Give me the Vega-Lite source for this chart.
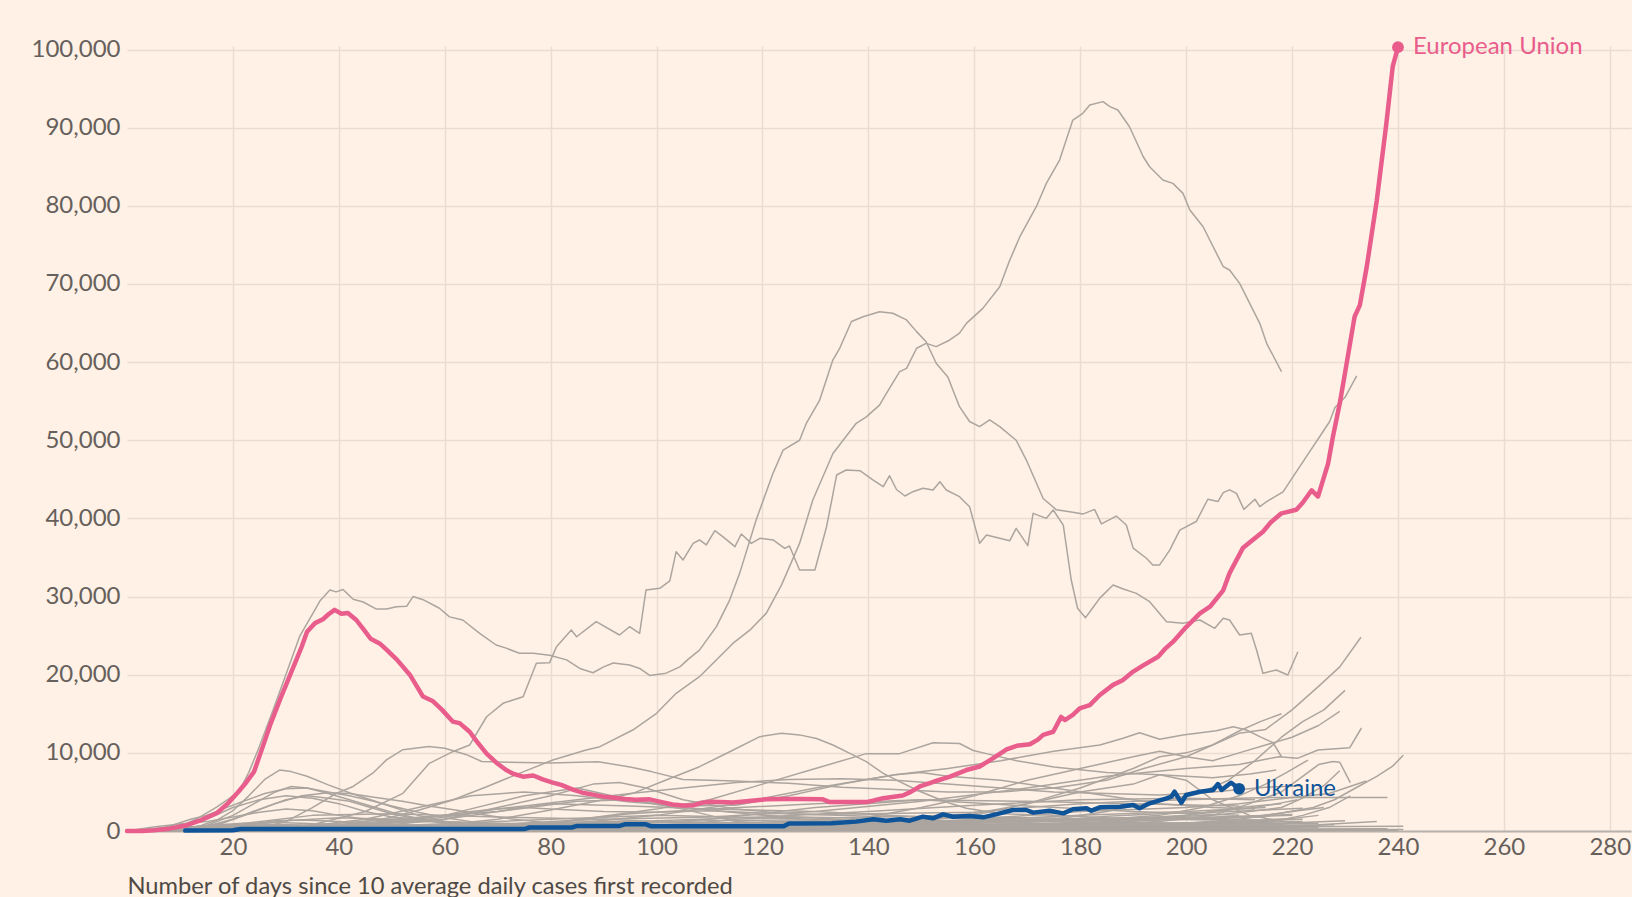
{
"$schema":"https://vega.github.io/schema/vega-lite/v6.json",
"width":1504,"height":785,
"autosize":{"type":"none"},
"padding":{"left":127,"top":46,"right":1,"bottom":66},
"background":"#fff1e5",
"config":{"view":{"stroke":null},"font":"Lato","text":{"font":"Lato"}},
"datasets":{
"g":[
{"c":"US","d":5,"v":0},{"c":"US","d":8,"v":300},{"c":"US","d":10,"v":600},{"c":"US","d":13,"v":1500},{"c":"US","d":15,"v":2300},{"c":"US","d":17,"v":3100},{"c":"US","d":19,"v":4000},{"c":"US","d":21.3,"v":5250},{"c":"US","d":23,"v":7500},{"c":"US","d":25,"v":10800},{"c":"US","d":27.6,"v":15500},{"c":"US","d":30.1,"v":20200},{"c":"US","d":32.6,"v":24900},{"c":"US","d":35.1,"v":27850},{"c":"US","d":36.5,"v":29500},{"c":"US","d":38.3,"v":30850},{"c":"US","d":39.5,"v":30600},{"c":"US","d":40.8,"v":30900},{"c":"US","d":42.7,"v":29650},{"c":"US","d":44.6,"v":29300},{"c":"US","d":47.1,"v":28400},{"c":"US","d":49,"v":28400},{"c":"US","d":50.9,"v":28700},{"c":"US","d":52.8,"v":28750},{"c":"US","d":54,"v":30000},{"c":"US","d":55.9,"v":29600},{"c":"US","d":59,"v":28500},{"c":"US","d":60.9,"v":27400},{"c":"US","d":63.4,"v":27000},{"c":"US","d":66.6,"v":25300},{"c":"US","d":69.7,"v":23800},{"c":"US","d":71.6,"v":23400},{"c":"US","d":74.1,"v":22750},{"c":"US","d":76.7,"v":22750},{"c":"US","d":79.8,"v":22500},{"c":"US","d":83,"v":21900},{"c":"US","d":85.5,"v":20800},{"c":"US","d":88,"v":20250},{"c":"US","d":90,"v":21000},{"c":"US","d":91.8,"v":21500},{"c":"US","d":94.9,"v":21250},{"c":"US","d":96.8,"v":20800},{"c":"US","d":98.7,"v":19900},{"c":"US","d":101.8,"v":20200},{"c":"US","d":104.4,"v":21000},{"c":"US","d":106,"v":22000},{"c":"US","d":108.1,"v":23150},{"c":"US","d":111.3,"v":26150},{"c":"US","d":113.8,"v":29550},{"c":"US","d":115.7,"v":33000},{"c":"US","d":118.8,"v":39800},{"c":"US","d":122,"v":45800},{"c":"US","d":123.9,"v":48750},{"c":"US","d":127,"v":50000},{"c":"US","d":128.3,"v":52200},{"c":"US","d":130.8,"v":55150},{"c":"US","d":133.3,"v":60300},{"c":"US","d":134.6,"v":61800},{"c":"US","d":136.8,"v":65200},{"c":"US","d":139,"v":65800},{"c":"US","d":142.1,"v":66450},{"c":"US","d":144.6,"v":66250},{"c":"US","d":147.2,"v":65400},{"c":"US","d":149.1,"v":63900},{"c":"US","d":150.9,"v":62600},{"c":"US","d":152.8,"v":59850},{"c":"US","d":155,"v":58100},{"c":"US","d":157.2,"v":54300},{"c":"US","d":159.1,"v":52400},{"c":"US","d":161,"v":51750},{"c":"US","d":162.9,"v":52600},{"c":"US","d":164.8,"v":51750},{"c":"US","d":167.9,"v":50000},{"c":"US","d":169.8,"v":47500},{"c":"US","d":173,"v":42550},{"c":"US","d":175.5,"v":41100},{"c":"US","d":178.6,"v":40800},{"c":"US","d":180.5,"v":40550},{"c":"US","d":182.7,"v":41150},{"c":"US","d":184,"v":39300},{"c":"US","d":186.8,"v":40300},{"c":"US","d":188.7,"v":39150},{"c":"US","d":190,"v":36200},{"c":"US","d":192.5,"v":34900},{"c":"US","d":193.7,"v":34050},{"c":"US","d":195,"v":34050},{"c":"US","d":196.9,"v":35950},{"c":"US","d":198.8,"v":38500},{"c":"US","d":201.9,"v":39600},{"c":"US","d":204.1,"v":42450},{"c":"US","d":206,"v":42150},{"c":"US","d":207,"v":43300},{"c":"US","d":208.2,"v":43650},{"c":"US","d":209.5,"v":43200},{"c":"US","d":210.9,"v":41150},{"c":"US","d":213,"v":42450},{"c":"US","d":213.9,"v":41500},{"c":"US","d":215.2,"v":42150},{"c":"US","d":218.3,"v":43400},{"c":"US","d":220.2,"v":45350},{"c":"US","d":222.7,"v":47900},{"c":"US","d":225.2,"v":50450},{"c":"US","d":227.1,"v":52400},{"c":"US","d":228.1,"v":54200},{"c":"US","d":230,"v":55500},{"c":"US","d":232.2,"v":58250},
{"c":"India","d":15,"v":0},{"c":"India","d":30,"v":200},{"c":"India","d":42.7,"v":980},{"c":"India","d":49,"v":1620},{"c":"India","d":55.2,"v":2690},{"c":"India","d":61.5,"v":3970},{"c":"India","d":67.9,"v":5670},{"c":"India","d":74.1,"v":7380},{"c":"India","d":80.4,"v":9080},{"c":"India","d":86.7,"v":10360},{"c":"India","d":89.3,"v":10790},{"c":"India","d":95.5,"v":12920},{"c":"India","d":100,"v":15060},{"c":"India","d":103.7,"v":17620},{"c":"India","d":108.1,"v":19740},{"c":"India","d":114.4,"v":24000},{"c":"India","d":117.6,"v":25700},{"c":"India","d":120.7,"v":27850},{"c":"India","d":123.6,"v":31500},{"c":"India","d":127,"v":36800},{"c":"India","d":129.5,"v":42350},{"c":"India","d":133.3,"v":48300},{"c":"India","d":137.7,"v":52170},{"c":"India","d":139.6,"v":53000},{"c":"India","d":142.1,"v":54500},{"c":"India","d":143.4,"v":56000},{"c":"India","d":145.9,"v":58780},{"c":"India","d":147.2,"v":59200},{"c":"India","d":149.1,"v":61770},{"c":"India","d":150.9,"v":62400},{"c":"India","d":152.8,"v":61980},{"c":"India","d":155.3,"v":62800},{"c":"India","d":157.2,"v":63700},{"c":"India","d":158.5,"v":64960},{"c":"India","d":161.6,"v":66880},{"c":"India","d":164.8,"v":69650},{"c":"India","d":166.7,"v":73060},{"c":"India","d":168.6,"v":76050},{"c":"India","d":171.7,"v":79890},{"c":"India","d":173.6,"v":82870},{"c":"India","d":176.1,"v":85860},{"c":"India","d":178.6,"v":90980},{"c":"India","d":180.5,"v":91840},{"c":"India","d":181.8,"v":92900},{"c":"India","d":184.3,"v":93330},{"c":"India","d":185.6,"v":92690},{"c":"India","d":187.1,"v":92260},{"c":"India","d":189.3,"v":90120},{"c":"India","d":191.9,"v":86280},{"c":"India","d":193.1,"v":85000},{"c":"India","d":195.6,"v":83300},{"c":"India","d":197.5,"v":82870},{"c":"India","d":199.4,"v":81590},{"c":"India","d":200.7,"v":79460},{"c":"India","d":203.2,"v":77320},{"c":"India","d":207,"v":72210},{"c":"India","d":208.2,"v":71790},{"c":"India","d":210.1,"v":70080},{"c":"India","d":213.9,"v":64960},{"c":"India","d":215.2,"v":62400},{"c":"India","d":218,"v":58780},
{"c":"Brazil","d":15,"v":0},{"c":"Brazil","d":25,"v":200},{"c":"Brazil","d":35,"v":800},{"c":"Brazil","d":45,"v":2500},{"c":"Brazil","d":52.1,"v":4820},{"c":"Brazil","d":57.1,"v":8660},{"c":"Brazil","d":61.5,"v":10150},{"c":"Brazil","d":64.7,"v":11000},{"c":"Brazil","d":67.9,"v":14620},{"c":"Brazil","d":71,"v":16340},{"c":"Brazil","d":74.8,"v":17190},{"c":"Brazil","d":77.3,"v":21460},{"c":"Brazil","d":79.8,"v":21540},{"c":"Brazil","d":81.1,"v":23580},{"c":"Brazil","d":83.9,"v":25720},{"c":"Brazil","d":84.9,"v":24860},{"c":"Brazil","d":88.6,"v":26780},{"c":"Brazil","d":93,"v":25080},{"c":"Brazil","d":94.9,"v":26140},{"c":"Brazil","d":96.8,"v":25300},{"c":"Brazil","d":98,"v":30840},{"c":"Brazil","d":100.6,"v":31060},{"c":"Brazil","d":102.5,"v":32000},{"c":"Brazil","d":103.7,"v":35740},{"c":"Brazil","d":105,"v":34680},{"c":"Brazil","d":106.9,"v":36810},{"c":"Brazil","d":108.1,"v":37240},{"c":"Brazil","d":109.4,"v":36600},{"c":"Brazil","d":111,"v":38430},{"c":"Brazil","d":112.5,"v":37660},{"c":"Brazil","d":114.8,"v":36380},{"c":"Brazil","d":116,"v":38000},{"c":"Brazil","d":117.9,"v":36810},{"c":"Brazil","d":119.5,"v":37450},{"c":"Brazil","d":122,"v":37240},{"c":"Brazil","d":124.2,"v":36170},{"c":"Brazil","d":125.1,"v":36470},{"c":"Brazil","d":127,"v":33400},{"c":"Brazil","d":129.9,"v":33400},{"c":"Brazil","d":132.1,"v":38940},{"c":"Brazil","d":134,"v":45550},{"c":"Brazil","d":135.8,"v":46190},{"c":"Brazil","d":138.4,"v":46100},{"c":"Brazil","d":140.9,"v":44910},{"c":"Brazil","d":142.8,"v":44060},{"c":"Brazil","d":144,"v":45460},{"c":"Brazil","d":145.3,"v":43700},{"c":"Brazil","d":146.9,"v":42870},{"c":"Brazil","d":148.4,"v":43420},{"c":"Brazil","d":150.3,"v":43850},{"c":"Brazil","d":152.2,"v":43640},{"c":"Brazil","d":153.5,"v":44700},{"c":"Brazil","d":154.7,"v":43640},{"c":"Brazil","d":157.2,"v":42780},{"c":"Brazil","d":159.1,"v":41500},{"c":"Brazil","d":161,"v":36810},{"c":"Brazil","d":162.3,"v":37880},{"c":"Brazil","d":164.8,"v":37450},{"c":"Brazil","d":166.7,"v":37150},{"c":"Brazil","d":167.9,"v":38730},{"c":"Brazil","d":170.1,"v":36510},{"c":"Brazil","d":171.1,"v":40650},{"c":"Brazil","d":173.6,"v":40010},{"c":"Brazil","d":174.9,"v":41080},{"c":"Brazil","d":176.8,"v":39150},{"c":"Brazil","d":178.3,"v":32120},{"c":"Brazil","d":179.5,"v":28500},{"c":"Brazil","d":181,"v":27300},{"c":"Brazil","d":182.3,"v":28500},{"c":"Brazil","d":183.7,"v":29800},{"c":"Brazil","d":186.2,"v":31480},{"c":"Brazil","d":188,"v":31000},{"c":"Brazil","d":190.6,"v":30410},{"c":"Brazil","d":193.1,"v":29340},{"c":"Brazil","d":196.3,"v":26780},{"c":"Brazil","d":199.4,"v":26570},{"c":"Brazil","d":202.6,"v":27000},{"c":"Brazil","d":205.4,"v":25940},{"c":"Brazil","d":207,"v":27220},{"c":"Brazil","d":208.2,"v":27000},{"c":"Brazil","d":210.1,"v":25080},{"c":"Brazil","d":212.3,"v":25300},{"c":"Brazil","d":213.3,"v":23160},{"c":"Brazil","d":214.5,"v":20180},{"c":"Brazil","d":217,"v":20600},{"c":"Brazil","d":219.2,"v":19960},{"c":"Brazil","d":221.1,"v":22940},
{"c":"Russia","d":12,"v":0},{"c":"Russia","d":20,"v":150},{"c":"Russia","d":25,"v":400},{"c":"Russia","d":30,"v":1200},{"c":"Russia","d":35,"v":3000},{"c":"Russia","d":39.5,"v":4800},{"c":"Russia","d":42.7,"v":5700},{"c":"Russia","d":46.4,"v":7400},{"c":"Russia","d":49,"v":9100},{"c":"Russia","d":52.1,"v":10400},{"c":"Russia","d":57,"v":10800},{"c":"Russia","d":60,"v":10600},{"c":"Russia","d":64,"v":9800},{"c":"Russia","d":67,"v":8900},{"c":"Russia","d":72,"v":8800},{"c":"Russia","d":80,"v":8700},{"c":"Russia","d":89,"v":8850},{"c":"Russia","d":95,"v":8200},{"c":"Russia","d":99,"v":7600},{"c":"Russia","d":105,"v":6600},{"c":"Russia","d":115,"v":6400},{"c":"Russia","d":125,"v":6100},{"c":"Russia","d":135,"v":5600},{"c":"Russia","d":145,"v":5300},{"c":"Russia","d":155,"v":5000},{"c":"Russia","d":165,"v":5000},{"c":"Russia","d":175,"v":5500},{"c":"Russia","d":185,"v":6500},{"c":"Russia","d":192,"v":8000},{"c":"Russia","d":200,"v":9500},{"c":"Russia","d":205,"v":11000},{"c":"Russia","d":210,"v":12800},{"c":"Russia","d":214,"v":14000},{"c":"Russia","d":218,"v":15000},
{"c":"SouthAfrica","d":12,"v":0},{"c":"SouthAfrica","d":30,"v":100},{"c":"SouthAfrica","d":50,"v":300},{"c":"SouthAfrica","d":60,"v":800},{"c":"SouthAfrica","d":70,"v":1500},{"c":"SouthAfrica","d":80,"v":2700},{"c":"SouthAfrica","d":90,"v":4000},{"c":"SouthAfrica","d":95.5,"v":4820},{"c":"SouthAfrica","d":101.8,"v":6530},{"c":"SouthAfrica","d":108.1,"v":8230},{"c":"SouthAfrica","d":114,"v":10200},{"c":"SouthAfrica","d":119.5,"v":12070},{"c":"SouthAfrica","d":123.6,"v":12500},{"c":"SouthAfrica","d":127,"v":12300},{"c":"SouthAfrica","d":130.2,"v":11840},{"c":"SouthAfrica","d":133.3,"v":11000},{"c":"SouthAfrica","d":136.5,"v":9940},{"c":"SouthAfrica","d":139.6,"v":8870},{"c":"SouthAfrica","d":142.8,"v":7380},{"c":"SouthAfrica","d":145.9,"v":6310},{"c":"SouthAfrica","d":149.1,"v":5250},{"c":"SouthAfrica","d":152.2,"v":4390},{"c":"SouthAfrica","d":155.4,"v":3540},{"c":"SouthAfrica","d":158.5,"v":2900},{"c":"SouthAfrica","d":165,"v":2200},{"c":"SouthAfrica","d":175,"v":2000},{"c":"SouthAfrica","d":185,"v":1700},{"c":"SouthAfrica","d":195,"v":1600},{"c":"SouthAfrica","d":205,"v":1700},{"c":"SouthAfrica","d":215,"v":1900},{"c":"SouthAfrica","d":220,"v":2000},
{"c":"Colombia","d":15,"v":0},{"c":"Colombia","d":40,"v":100},{"c":"Colombia","d":60,"v":400},{"c":"Colombia","d":80,"v":1000},{"c":"Colombia","d":100,"v":2800},{"c":"Colombia","d":110,"v":4000},{"c":"Colombia","d":120,"v":6000},{"c":"Colombia","d":130,"v":8000},{"c":"Colombia","d":139.6,"v":9900},{"c":"Colombia","d":145.9,"v":9900},{"c":"Colombia","d":152.2,"v":11300},{"c":"Colombia","d":157.2,"v":11200},{"c":"Colombia","d":159.8,"v":10300},{"c":"Colombia","d":162.3,"v":9900},{"c":"Colombia","d":168,"v":9000},{"c":"Colombia","d":175,"v":8200},{"c":"Colombia","d":185,"v":7500},{"c":"Colombia","d":195,"v":7200},{"c":"Colombia","d":205,"v":6800},{"c":"Colombia","d":212,"v":7300},{"c":"Colombia","d":217,"v":7800},
{"c":"Argentina","d":17,"v":0},{"c":"Argentina","d":50,"v":200},{"c":"Argentina","d":80,"v":700},{"c":"Argentina","d":100,"v":2000},{"c":"Argentina","d":115,"v":3500},{"c":"Argentina","d":130,"v":5500},{"c":"Argentina","d":145,"v":7200},{"c":"Argentina","d":155,"v":8000},{"c":"Argentina","d":165,"v":9000},{"c":"Argentina","d":175,"v":10200},{"c":"Argentina","d":183.7,"v":11000},{"c":"Argentina","d":188.1,"v":11860},{"c":"Argentina","d":191.2,"v":12580},{"c":"Argentina","d":195,"v":11730},{"c":"Argentina","d":199.4,"v":12280},{"c":"Argentina","d":205.7,"v":12830},{"c":"Argentina","d":208.9,"v":13340},{"c":"Argentina","d":211.4,"v":12920},{"c":"Argentina","d":213.9,"v":12070},{"c":"Argentina","d":216.4,"v":11300},{"c":"Argentina","d":218,"v":9500},
{"c":"X1","d":5,"v":0},{"c":"X1","d":20,"v":800},{"c":"X1","d":35,"v":2000},{"c":"X1","d":50,"v":2200},{"c":"X1","d":70,"v":1800},{"c":"X1","d":90,"v":1500},{"c":"X1","d":110,"v":1800},{"c":"X1","d":130,"v":2500},{"c":"X1","d":150,"v":3800},{"c":"X1","d":170,"v":5500},{"c":"X1","d":185,"v":7000},{"c":"X1","d":200,"v":8000},{"c":"X1","d":210,"v":8500},{"c":"X1","d":217.5,"v":9500},{"c":"X1","d":221,"v":9300},{"c":"X1","d":224.9,"v":10360},{"c":"X1","d":230.9,"v":10660},{"c":"X1","d":233.1,"v":13180},
{"c":"Spain","d":5,"v":0},{"c":"Spain","d":10,"v":150},{"c":"Spain","d":14,"v":700},{"c":"Spain","d":17,"v":1400},{"c":"Spain","d":20,"v":2600},{"c":"Spain","d":23,"v":4500},{"c":"Spain","d":26,"v":6600},{"c":"Spain","d":28.8,"v":7800},{"c":"Spain","d":31,"v":7600},{"c":"Spain","d":34,"v":7000},{"c":"Spain","d":38,"v":5900},{"c":"Spain","d":42,"v":4900},{"c":"Spain","d":46,"v":4000},{"c":"Spain","d":50,"v":3100},{"c":"Spain","d":55,"v":2000},{"c":"Spain","d":60,"v":1200},{"c":"Spain","d":65,"v":700},{"c":"Spain","d":75,"v":400},{"c":"Spain","d":90,"v":300},{"c":"Spain","d":110,"v":300},{"c":"Spain","d":125,"v":700},{"c":"Spain","d":140,"v":1800},{"c":"Spain","d":150,"v":3000},{"c":"Spain","d":160,"v":4500},{"c":"Spain","d":170,"v":6500},{"c":"Spain","d":180,"v":8000},{"c":"Spain","d":190,"v":9500},{"c":"Spain","d":195,"v":10200},{"c":"Spain","d":200,"v":9500},{"c":"Spain","d":205,"v":9000},{"c":"Spain","d":210,"v":10000},{"c":"Spain","d":215,"v":11000},{"c":"Spain","d":220,"v":12000},{"c":"Spain","d":225,"v":13500},{"c":"Spain","d":229,"v":15300},
{"c":"Italy","d":0,"v":0},{"c":"Italy","d":5,"v":200},{"c":"Italy","d":8,"v":600},{"c":"Italy","d":12,"v":1500},{"c":"Italy","d":15,"v":2000},{"c":"Italy","d":18,"v":2800},{"c":"Italy","d":22,"v":3800},{"c":"Italy","d":26,"v":4800},{"c":"Italy","d":30,"v":5400},{"c":"Italy","d":34,"v":5500},{"c":"Italy","d":38,"v":5000},{"c":"Italy","d":42,"v":4500},{"c":"Italy","d":46,"v":3900},{"c":"Italy","d":50,"v":3200},{"c":"Italy","d":55,"v":2400},{"c":"Italy","d":60,"v":1700},{"c":"Italy","d":65,"v":1200},{"c":"Italy","d":70,"v":800},{"c":"Italy","d":80,"v":450},{"c":"Italy","d":100,"v":250},{"c":"Italy","d":120,"v":250},{"c":"Italy","d":140,"v":300},{"c":"Italy","d":160,"v":600},{"c":"Italy","d":180,"v":1100},{"c":"Italy","d":195,"v":1400},{"c":"Italy","d":205,"v":1600},{"c":"Italy","d":212,"v":1800},{"c":"Italy","d":218,"v":2300},{"c":"Italy","d":224,"v":3000},{"c":"Italy","d":228,"v":4000},{"c":"Italy","d":232,"v":5500},{"c":"Italy","d":236,"v":7000},{"c":"Italy","d":239,"v":8300},{"c":"Italy","d":241,"v":9700},
{"c":"Germany","d":5,"v":0},{"c":"Germany","d":10,"v":100},{"c":"Germany","d":15,"v":700},{"c":"Germany","d":20,"v":2000},{"c":"Germany","d":24,"v":3500},{"c":"Germany","d":28,"v":5000},{"c":"Germany","d":31,"v":5700},{"c":"Germany","d":34,"v":5500},{"c":"Germany","d":38,"v":4800},{"c":"Germany","d":42,"v":4000},{"c":"Germany","d":46,"v":3200},{"c":"Germany","d":50,"v":2400},{"c":"Germany","d":55,"v":1600},{"c":"Germany","d":60,"v":1000},{"c":"Germany","d":65,"v":700},{"c":"Germany","d":75,"v":500},{"c":"Germany","d":90,"v":400},{"c":"Germany","d":110,"v":450},{"c":"Germany","d":125,"v":400},{"c":"Germany","d":140,"v":700},{"c":"Germany","d":155,"v":1200},{"c":"Germany","d":165,"v":1400},{"c":"Germany","d":175,"v":1300},{"c":"Germany","d":185,"v":1500},{"c":"Germany","d":195,"v":1800},{"c":"Germany","d":205,"v":2000},{"c":"Germany","d":212,"v":2500},{"c":"Germany","d":218,"v":3000},{"c":"Germany","d":222,"v":4200},{"c":"Germany","d":226,"v":5800},{"c":"Germany","d":229,"v":7700},
{"c":"France","d":3,"v":0},{"c":"France","d":10,"v":200},{"c":"France","d":15,"v":600},{"c":"France","d":20,"v":1500},{"c":"France","d":25,"v":2800},{"c":"France","d":30,"v":4000},{"c":"France","d":34,"v":4500},{"c":"France","d":38,"v":4200},{"c":"France","d":42,"v":3800},{"c":"France","d":46,"v":3000},{"c":"France","d":50,"v":2200},{"c":"France","d":55,"v":1500},{"c":"France","d":60,"v":1000},{"c":"France","d":65,"v":600},{"c":"France","d":75,"v":400},{"c":"France","d":95,"v":400},{"c":"France","d":110,"v":500},{"c":"France","d":130,"v":700},{"c":"France","d":145,"v":1000},{"c":"France","d":160,"v":2000},{"c":"France","d":170,"v":3500},{"c":"France","d":180,"v":5500},{"c":"France","d":190,"v":8000},{"c":"France","d":195,"v":9500},{"c":"France","d":200,"v":10000},{"c":"France","d":205,"v":11000},{"c":"France","d":210,"v":12500},{"c":"France","d":215,"v":13000},{"c":"France","d":220,"v":15500},{"c":"France","d":225,"v":18500},{"c":"France","d":229,"v":21000},{"c":"France","d":233,"v":24800},
{"c":"UK","d":8,"v":0},{"c":"UK","d":12,"v":200},{"c":"UK","d":18,"v":1000},{"c":"UK","d":23,"v":2200},{"c":"UK","d":28,"v":3500},{"c":"UK","d":33,"v":4500},{"c":"UK","d":38,"v":4900},{"c":"UK","d":42,"v":4800},{"c":"UK","d":47,"v":4300},{"c":"UK","d":52,"v":3800},{"c":"UK","d":57,"v":3200},{"c":"UK","d":62,"v":2700},{"c":"UK","d":67,"v":2100},{"c":"UK","d":72,"v":1600},{"c":"UK","d":80,"v":1000},{"c":"UK","d":90,"v":700},{"c":"UK","d":100,"v":600},{"c":"UK","d":120,"v":650},{"c":"UK","d":140,"v":800},{"c":"UK","d":160,"v":1000},{"c":"UK","d":175,"v":1500},{"c":"UK","d":185,"v":2500},{"c":"UK","d":192,"v":3500},{"c":"UK","d":198,"v":4200},{"c":"UK","d":203,"v":5000},{"c":"UK","d":208,"v":6500},{"c":"UK","d":213,"v":9000},{"c":"UK","d":218,"v":12000},{"c":"UK","d":222,"v":14000},{"c":"UK","d":226,"v":15500},{"c":"UK","d":230,"v":18000},
{"c":"Mexico","d":12,"v":0},{"c":"Mexico","d":25,"v":100},{"c":"Mexico","d":40,"v":600},{"c":"Mexico","d":55,"v":1500},{"c":"Mexico","d":65,"v":2500},{"c":"Mexico","d":75,"v":3200},{"c":"Mexico","d":85,"v":4000},{"c":"Mexico","d":95,"v":4800},{"c":"Mexico","d":105,"v":5500},{"c":"Mexico","d":115,"v":6200},{"c":"Mexico","d":125,"v":6600},{"c":"Mexico","d":135,"v":6700},{"c":"Mexico","d":145,"v":6500},{"c":"Mexico","d":155,"v":6000},{"c":"Mexico","d":165,"v":5500},{"c":"Mexico","d":175,"v":5000},{"c":"Mexico","d":185,"v":4800},{"c":"Mexico","d":195,"v":4600},{"c":"Mexico","d":205,"v":5000},{"c":"Mexico","d":215,"v":5600},{"c":"Mexico","d":222,"v":5800},
{"c":"Peru","d":15,"v":0},{"c":"Peru","d":30,"v":300},{"c":"Peru","d":45,"v":1500},{"c":"Peru","d":55,"v":3000},{"c":"Peru","d":65,"v":4500},{"c":"Peru","d":75,"v":5000},{"c":"Peru","d":85,"v":4500},{"c":"Peru","d":95,"v":3700},{"c":"Peru","d":105,"v":3200},{"c":"Peru","d":115,"v":3300},{"c":"Peru","d":125,"v":4500},{"c":"Peru","d":135,"v":6000},{"c":"Peru","d":145,"v":7200},{"c":"Peru","d":150,"v":7500},{"c":"Peru","d":155,"v":7000},{"c":"Peru","d":165,"v":6500},{"c":"Peru","d":175,"v":5500},{"c":"Peru","d":185,"v":4500},{"c":"Peru","d":195,"v":3500},{"c":"Peru","d":205,"v":3000},{"c":"Peru","d":213,"v":2800},
{"c":"Chile","d":15,"v":0},{"c":"Chile","d":30,"v":300},{"c":"Chile","d":50,"v":800},{"c":"Chile","d":60,"v":1500},{"c":"Chile","d":70,"v":3000},{"c":"Chile","d":80,"v":4500},{"c":"Chile","d":88,"v":6000},{"c":"Chile","d":93,"v":6200},{"c":"Chile","d":98,"v":5500},{"c":"Chile","d":105,"v":4000},{"c":"Chile","d":115,"v":2800},{"c":"Chile","d":125,"v":2200},{"c":"Chile","d":140,"v":1900},{"c":"Chile","d":160,"v":1800},{"c":"Chile","d":180,"v":1600},{"c":"Chile","d":200,"v":1500},{"c":"Chile","d":215,"v":1400},
{"c":"Turkey","d":5,"v":0},{"c":"Turkey","d":10,"v":500},{"c":"Turkey","d":15,"v":1500},{"c":"Turkey","d":20,"v":3000},{"c":"Turkey","d":25,"v":4000},{"c":"Turkey","d":30,"v":4500},{"c":"Turkey","d":35,"v":4200},{"c":"Turkey","d":40,"v":3500},{"c":"Turkey","d":45,"v":2500},{"c":"Turkey","d":50,"v":1800},{"c":"Turkey","d":60,"v":1200},{"c":"Turkey","d":70,"v":900},{"c":"Turkey","d":80,"v":1100},{"c":"Turkey","d":90,"v":1200},{"c":"Turkey","d":100,"v":1100},{"c":"Turkey","d":120,"v":1000},{"c":"Turkey","d":140,"v":1200},{"c":"Turkey","d":150,"v":1700},{"c":"Turkey","d":160,"v":1600},{"c":"Turkey","d":175,"v":1500},{"c":"Turkey","d":190,"v":1700},{"c":"Turkey","d":205,"v":1800},{"c":"Turkey","d":220,"v":2100},
{"c":"Iran","d":0,"v":0},{"c":"Iran","d":5,"v":500},{"c":"Iran","d":10,"v":900},{"c":"Iran","d":15,"v":1200},{"c":"Iran","d":20,"v":1800},{"c":"Iran","d":25,"v":2400},{"c":"Iran","d":30,"v":2800},{"c":"Iran","d":35,"v":2600},{"c":"Iran","d":40,"v":2000},{"c":"Iran","d":45,"v":1500},{"c":"Iran","d":50,"v":1200},{"c":"Iran","d":55,"v":1300},{"c":"Iran","d":60,"v":1800},{"c":"Iran","d":65,"v":2300},{"c":"Iran","d":70,"v":2800},{"c":"Iran","d":75,"v":3000},{"c":"Iran","d":80,"v":2800},{"c":"Iran","d":90,"v":2500},{"c":"Iran","d":100,"v":2400},{"c":"Iran","d":110,"v":2600},{"c":"Iran","d":120,"v":2300},{"c":"Iran","d":130,"v":2100},{"c":"Iran","d":140,"v":2200},{"c":"Iran","d":150,"v":2300},{"c":"Iran","d":160,"v":2400},{"c":"Iran","d":170,"v":3000},{"c":"Iran","d":180,"v":3500},{"c":"Iran","d":190,"v":3800},{"c":"Iran","d":200,"v":4000},{"c":"Iran","d":210,"v":4200},{"c":"Iran","d":218,"v":4300},{"c":"Iran","d":238,"v":4300},
{"c":"Canada","d":10,"v":0},{"c":"Canada","d":20,"v":500},{"c":"Canada","d":30,"v":1300},{"c":"Canada","d":40,"v":1700},{"c":"Canada","d":50,"v":1500},{"c":"Canada","d":60,"v":1200},{"c":"Canada","d":70,"v":800},{"c":"Canada","d":80,"v":400},{"c":"Canada","d":100,"v":300},{"c":"Canada","d":120,"v":350},{"c":"Canada","d":140,"v":450},{"c":"Canada","d":160,"v":700},{"c":"Canada","d":175,"v":1300},{"c":"Canada","d":185,"v":1900},{"c":"Canada","d":195,"v":2200},{"c":"Canada","d":205,"v":2400},{"c":"Canada","d":215,"v":2700},{"c":"Canada","d":222,"v":2900},
{"c":"Netherlands","d":8,"v":0},{"c":"Netherlands","d":15,"v":400},{"c":"Netherlands","d":22,"v":900},{"c":"Netherlands","d":28,"v":1100},{"c":"Netherlands","d":33,"v":1000},{"c":"Netherlands","d":40,"v":800},{"c":"Netherlands","d":50,"v":400},{"c":"Netherlands","d":60,"v":150},{"c":"Netherlands","d":90,"v":100},{"c":"Netherlands","d":120,"v":500},{"c":"Netherlands","d":140,"v":700},{"c":"Netherlands","d":160,"v":1500},{"c":"Netherlands","d":180,"v":2500},{"c":"Netherlands","d":200,"v":3000},{"c":"Netherlands","d":210,"v":3500},{"c":"Netherlands","d":220,"v":4300},{"c":"Netherlands","d":227,"v":4800},{"c":"Netherlands","d":234,"v":6400},
{"c":"Belgium","d":8,"v":0},{"c":"Belgium","d":15,"v":300},{"c":"Belgium","d":22,"v":800},{"c":"Belgium","d":28,"v":1300},{"c":"Belgium","d":33,"v":1400},{"c":"Belgium","d":40,"v":1200},{"c":"Belgium","d":50,"v":800},{"c":"Belgium","d":60,"v":400},{"c":"Belgium","d":80,"v":100},{"c":"Belgium","d":120,"v":200},{"c":"Belgium","d":140,"v":400},{"c":"Belgium","d":160,"v":500},{"c":"Belgium","d":180,"v":800},{"c":"Belgium","d":195,"v":1200},{"c":"Belgium","d":205,"v":2000},{"c":"Belgium","d":212,"v":3500},{"c":"Belgium","d":218,"v":5000},{"c":"Belgium","d":222,"v":7000},{"c":"Belgium","d":225,"v":8500},{"c":"Belgium","d":227.7,"v":8900},{"c":"Belgium","d":229,"v":8800},{"c":"Belgium","d":231,"v":6200},
{"c":"Czechia","d":10,"v":0},{"c":"Czechia","d":20,"v":200},{"c":"Czechia","d":40,"v":300},{"c":"Czechia","d":80,"v":200},{"c":"Czechia","d":120,"v":150},{"c":"Czechia","d":150,"v":300},{"c":"Czechia","d":165,"v":600},{"c":"Czechia","d":175,"v":900},{"c":"Czechia","d":185,"v":1500},{"c":"Czechia","d":195,"v":2000},{"c":"Czechia","d":203,"v":3000},{"c":"Czechia","d":210,"v":4500},{"c":"Czechia","d":215,"v":6000},{"c":"Czechia","d":219,"v":7500},{"c":"Czechia","d":223,"v":9080},
{"c":"Poland","d":10,"v":0},{"c":"Poland","d":30,"v":300},{"c":"Poland","d":50,"v":400},{"c":"Poland","d":80,"v":400},{"c":"Poland","d":120,"v":500},{"c":"Poland","d":150,"v":700},{"c":"Poland","d":170,"v":800},{"c":"Poland","d":185,"v":1000},{"c":"Poland","d":195,"v":1500},{"c":"Poland","d":205,"v":2500},{"c":"Poland","d":213,"v":3000},{"c":"Poland","d":218,"v":3600},{"c":"Poland","d":221,"v":4000},
{"c":"Portugal","d":5,"v":0},{"c":"Portugal","d":15,"v":300},{"c":"Portugal","d":25,"v":700},{"c":"Portugal","d":30,"v":800},{"c":"Portugal","d":40,"v":600},{"c":"Portugal","d":50,"v":400},{"c":"Portugal","d":60,"v":300},{"c":"Portugal","d":80,"v":350},{"c":"Portugal","d":100,"v":300},{"c":"Portugal","d":130,"v":200},{"c":"Portugal","d":150,"v":300},{"c":"Portugal","d":170,"v":500},{"c":"Portugal","d":190,"v":800},{"c":"Portugal","d":200,"v":1000},{"c":"Portugal","d":210,"v":1500},{"c":"Portugal","d":220,"v":2500},{"c":"Portugal","d":226,"v":3000},
{"c":"Sweden","d":5,"v":0},{"c":"Sweden","d":20,"v":300},{"c":"Sweden","d":40,"v":500},{"c":"Sweden","d":60,"v":600},{"c":"Sweden","d":80,"v":900},{"c":"Sweden","d":90,"v":1000},{"c":"Sweden","d":100,"v":800},{"c":"Sweden","d":120,"v":300},{"c":"Sweden","d":150,"v":250},{"c":"Sweden","d":170,"v":300},{"c":"Sweden","d":190,"v":400},{"c":"Sweden","d":205,"v":700},{"c":"Sweden","d":215,"v":900},{"c":"Sweden","d":225,"v":1000},
{"c":"Austria","d":5,"v":0},{"c":"Austria","d":15,"v":500},{"c":"Austria","d":20,"v":800},{"c":"Austria","d":25,"v":700},{"c":"Austria","d":35,"v":300},{"c":"Austria","d":50,"v":50},{"c":"Austria","d":100,"v":100},{"c":"Austria","d":140,"v":200},{"c":"Austria","d":170,"v":400},{"c":"Austria","d":190,"v":700},{"c":"Austria","d":205,"v":900},{"c":"Austria","d":215,"v":1200},{"c":"Austria","d":225,"v":2000},
{"c":"Romania","d":10,"v":0},{"c":"Romania","d":30,"v":300},{"c":"Romania","d":50,"v":350},{"c":"Romania","d":80,"v":250},{"c":"Romania","d":110,"v":600},{"c":"Romania","d":130,"v":1200},{"c":"Romania","d":150,"v":1300},{"c":"Romania","d":170,"v":1300},{"c":"Romania","d":190,"v":1600},{"c":"Romania","d":200,"v":2000},{"c":"Romania","d":210,"v":3000},{"c":"Romania","d":218,"v":3500},
{"c":"Switzerland","d":5,"v":0},{"c":"Switzerland","d":15,"v":700},{"c":"Switzerland","d":22,"v":1000},{"c":"Switzerland","d":28,"v":800},{"c":"Switzerland","d":40,"v":300},{"c":"Switzerland","d":60,"v":30},{"c":"Switzerland","d":100,"v":100},{"c":"Switzerland","d":140,"v":200},{"c":"Switzerland","d":180,"v":300},{"c":"Switzerland","d":200,"v":500},{"c":"Switzerland","d":215,"v":1000},{"c":"Switzerland","d":222,"v":2000},{"c":"Switzerland","d":227,"v":3000},{"c":"Switzerland","d":231,"v":4500},
{"c":"Ireland","d":8,"v":0},{"c":"Ireland","d":20,"v":500},{"c":"Ireland","d":30,"v":800},{"c":"Ireland","d":35,"v":700},{"c":"Ireland","d":50,"v":300},{"c":"Ireland","d":70,"v":50},{"c":"Ireland","d":120,"v":50},{"c":"Ireland","d":150,"v":150},{"c":"Ireland","d":170,"v":300},{"c":"Ireland","d":185,"v":400},{"c":"Ireland","d":195,"v":700},{"c":"Ireland","d":205,"v":1000},{"c":"Ireland","d":215,"v":1100},{"c":"Ireland","d":222,"v":1200},
{"c":"Saudi","d":10,"v":0},{"c":"Saudi","d":30,"v":500},{"c":"Saudi","d":50,"v":1500},{"c":"Saudi","d":70,"v":2500},{"c":"Saudi","d":85,"v":3800},{"c":"Saudi","d":95,"v":4000},{"c":"Saudi","d":105,"v":3000},{"c":"Saudi","d":120,"v":2000},{"c":"Saudi","d":140,"v":1300},{"c":"Saudi","d":160,"v":700},{"c":"Saudi","d":180,"v":500},{"c":"Saudi","d":200,"v":400},{"c":"Saudi","d":215,"v":350},
{"c":"Pakistan","d":10,"v":0},{"c":"Pakistan","d":40,"v":700},{"c":"Pakistan","d":60,"v":2000},{"c":"Pakistan","d":75,"v":4500},{"c":"Pakistan","d":85,"v":5500},{"c":"Pakistan","d":95,"v":4000},{"c":"Pakistan","d":105,"v":2800},{"c":"Pakistan","d":115,"v":1200},{"c":"Pakistan","d":130,"v":600},{"c":"Pakistan","d":160,"v":500},{"c":"Pakistan","d":190,"v":600},{"c":"Pakistan","d":215,"v":700},
{"c":"Bangladesh","d":20,"v":0},{"c":"Bangladesh","d":40,"v":500},{"c":"Bangladesh","d":60,"v":1500},{"c":"Bangladesh","d":80,"v":3500},{"c":"Bangladesh","d":95,"v":3200},{"c":"Bangladesh","d":110,"v":2800},{"c":"Bangladesh","d":130,"v":2500},{"c":"Bangladesh","d":150,"v":1800},{"c":"Bangladesh","d":170,"v":1500},{"c":"Bangladesh","d":190,"v":1500},{"c":"Bangladesh","d":210,"v":1400},
{"c":"Philippines","d":15,"v":0},{"c":"Philippines","d":40,"v":200},{"c":"Philippines","d":70,"v":400},{"c":"Philippines","d":90,"v":600},{"c":"Philippines","d":110,"v":1500},{"c":"Philippines","d":130,"v":3000},{"c":"Philippines","d":150,"v":4000},{"c":"Philippines","d":170,"v":3200},{"c":"Philippines","d":190,"v":2500},{"c":"Philippines","d":210,"v":2000},
{"c":"Indonesia","d":15,"v":0},{"c":"Indonesia","d":40,"v":300},{"c":"Indonesia","d":70,"v":600},{"c":"Indonesia","d":100,"v":1300},{"c":"Indonesia","d":120,"v":1800},{"c":"Indonesia","d":140,"v":2500},{"c":"Indonesia","d":160,"v":3300},{"c":"Indonesia","d":180,"v":4000},{"c":"Indonesia","d":200,"v":4200},{"c":"Indonesia","d":213,"v":4000},
{"c":"Iraq","d":20,"v":0},{"c":"Iraq","d":60,"v":200},{"c":"Iraq","d":80,"v":1000},{"c":"Iraq","d":95,"v":2200},{"c":"Iraq","d":110,"v":2800},{"c":"Iraq","d":130,"v":3500},{"c":"Iraq","d":150,"v":4000},{"c":"Iraq","d":170,"v":3800},{"c":"Iraq","d":190,"v":3500},{"c":"Iraq","d":210,"v":3200},
{"c":"Japan","d":5,"v":0},{"c":"Japan","d":20,"v":100},{"c":"Japan","d":35,"v":500},{"c":"Japan","d":45,"v":400},{"c":"Japan","d":60,"v":100},{"c":"Japan","d":80,"v":100},{"c":"Japan","d":100,"v":200},{"c":"Japan","d":120,"v":800},{"c":"Japan","d":140,"v":1200},{"c":"Japan","d":150,"v":1000},{"c":"Japan","d":165,"v":600},{"c":"Japan","d":180,"v":500},{"c":"Japan","d":200,"v":500},{"c":"Japan","d":220,"v":550},{"c":"Japan","d":241,"v":600},
{"c":"Korea","d":0,"v":0},{"c":"Korea","d":5,"v":300},{"c":"Korea","d":10,"v":600},{"c":"Korea","d":15,"v":500},{"c":"Korea","d":25,"v":150},{"c":"Korea","d":40,"v":50},{"c":"Korea","d":80,"v":40},{"c":"Korea","d":120,"v":50},{"c":"Korea","d":170,"v":150},{"c":"Korea","d":185,"v":350},{"c":"Korea","d":195,"v":200},{"c":"Korea","d":220,"v":80},{"c":"Korea","d":240,"v":90},
{"c":"Israel","d":10,"v":0},{"c":"Israel","d":25,"v":500},{"c":"Israel","d":32,"v":550},{"c":"Israel","d":45,"v":200},{"c":"Israel","d":60,"v":20},{"c":"Israel","d":80,"v":100},{"c":"Israel","d":100,"v":500},{"c":"Israel","d":115,"v":1500},{"c":"Israel","d":125,"v":1800},{"c":"Israel","d":135,"v":1700},{"c":"Israel","d":150,"v":1900},{"c":"Israel","d":160,"v":2200},{"c":"Israel","d":170,"v":3500},{"c":"Israel","d":180,"v":5000},{"c":"Israel","d":190,"v":6000},{"c":"Israel","d":195,"v":7200},{"c":"Israel","d":200,"v":6500},{"c":"Israel","d":205,"v":4000},{"c":"Israel","d":212,"v":2000},{"c":"Israel","d":220,"v":1000},
{"c":"Ecuador","d":10,"v":0},{"c":"Ecuador","d":30,"v":500},{"c":"Ecuador","d":40,"v":800},{"c":"Ecuador","d":50,"v":700},{"c":"Ecuador","d":70,"v":500},{"c":"Ecuador","d":100,"v":800},{"c":"Ecuador","d":130,"v":1000},{"c":"Ecuador","d":160,"v":800},{"c":"Ecuador","d":190,"v":800},{"c":"Ecuador","d":215,"v":700},
{"c":"Morocco","d":20,"v":0},{"c":"Morocco","d":80,"v":100},{"c":"Morocco","d":120,"v":300},{"c":"Morocco","d":140,"v":1000},{"c":"Morocco","d":160,"v":1400},{"c":"Morocco","d":180,"v":2000},{"c":"Morocco","d":200,"v":2500},{"c":"Morocco","d":215,"v":3000},
{"c":"Bolivia","d":20,"v":0},{"c":"Bolivia","d":80,"v":400},{"c":"Bolivia","d":110,"v":1000},{"c":"Bolivia","d":130,"v":1300},{"c":"Bolivia","d":150,"v":900},{"c":"Bolivia","d":170,"v":500},{"c":"Bolivia","d":200,"v":300},
{"c":"Egypt","d":15,"v":0},{"c":"Egypt","d":60,"v":400},{"c":"Egypt","d":80,"v":1200},{"c":"Egypt","d":90,"v":1500},{"c":"Egypt","d":100,"v":1200},{"c":"Egypt","d":120,"v":400},{"c":"Egypt","d":150,"v":150},{"c":"Egypt","d":200,"v":120},{"c":"Egypt","d":215,"v":100},
{"c":"S1","d":10,"v":0},{"c":"S1","d":30,"v":300},{"c":"S1","d":60,"v":500},{"c":"S1","d":90,"v":700},{"c":"S1","d":120,"v":900},{"c":"S1","d":150,"v":1100},{"c":"S1","d":180,"v":1300},{"c":"S1","d":200,"v":1500},{"c":"S1","d":215,"v":1800},
{"c":"S2","d":12,"v":0},{"c":"S2","d":40,"v":200},{"c":"S2","d":80,"v":300},{"c":"S2","d":120,"v":400},{"c":"S2","d":160,"v":600},{"c":"S2","d":190,"v":900},{"c":"S2","d":210,"v":1200},{"c":"S2","d":222,"v":1500},
{"c":"S3","d":15,"v":0},{"c":"S3","d":30,"v":600},{"c":"S3","d":45,"v":900},{"c":"S3","d":60,"v":700},{"c":"S3","d":90,"v":400},{"c":"S3","d":120,"v":300},{"c":"S3","d":150,"v":400},{"c":"S3","d":180,"v":700},{"c":"S3","d":205,"v":1100},{"c":"S3","d":220,"v":1600},
{"c":"S4","d":8,"v":0},{"c":"S4","d":25,"v":400},{"c":"S4","d":40,"v":700},{"c":"S4","d":55,"v":500},{"c":"S4","d":80,"v":200},{"c":"S4","d":120,"v":150},{"c":"S4","d":160,"v":300},{"c":"S4","d":190,"v":500},{"c":"S4","d":215,"v":900},{"c":"S4","d":230,"v":1300},
{"c":"S5","d":20,"v":0},{"c":"S5","d":50,"v":300},{"c":"S5","d":80,"v":800},{"c":"S5","d":110,"v":1300},{"c":"S5","d":140,"v":1500},{"c":"S5","d":170,"v":1200},{"c":"S5","d":200,"v":1000},{"c":"S5","d":212,"v":900},
{"c":"S6","d":18,"v":0},{"c":"S6","d":60,"v":200},{"c":"S6","d":100,"v":600},{"c":"S6","d":130,"v":900},{"c":"S6","d":160,"v":800},{"c":"S6","d":190,"v":600},{"c":"S6","d":215,"v":700},
{"c":"S7","d":10,"v":0},{"c":"S7","d":20,"v":300},{"c":"S7","d":35,"v":600},{"c":"S7","d":50,"v":400},{"c":"S7","d":80,"v":150},{"c":"S7","d":130,"v":100},{"c":"S7","d":170,"v":200},{"c":"S7","d":200,"v":400},{"c":"S7","d":225,"v":800},{"c":"S7","d":236,"v":1200},
{"c":"S8","d":25,"v":0},{"c":"S8","d":70,"v":300},{"c":"S8","d":110,"v":500},{"c":"S8","d":150,"v":700},{"c":"S8","d":180,"v":900},{"c":"S8","d":200,"v":1000},{"c":"S8","d":215,"v":1300},
{"c":"S9","d":15,"v":0},{"c":"S9","d":40,"v":400},{"c":"S9","d":70,"v":900},{"c":"S9","d":100,"v":1100},{"c":"S9","d":130,"v":900},{"c":"S9","d":160,"v":600},{"c":"S9","d":190,"v":500},{"c":"S9","d":213,"v":500},
{"c":"S10","d":5,"v":0},{"c":"S10","d":20,"v":200},{"c":"S10","d":40,"v":300},{"c":"S10","d":80,"v":200},{"c":"S10","d":130,"v":100},{"c":"S10","d":180,"v":150},{"c":"S10","d":220,"v":250},{"c":"S10","d":238,"v":300},
{"c":"S11","d":12,"v":0},{"c":"S11","d":35,"v":100},{"c":"S11","d":60,"v":300},{"c":"S11","d":90,"v":500},{"c":"S11","d":120,"v":800},{"c":"S11","d":150,"v":700},{"c":"S11","d":180,"v":500},{"c":"S11","d":210,"v":400},{"c":"S11","d":222,"v":450},
{"c":"S12","d":20,"v":0},{"c":"S12","d":50,"v":150},{"c":"S12","d":90,"v":250},{"c":"S12","d":130,"v":400},{"c":"S12","d":170,"v":600},{"c":"S12","d":200,"v":900},{"c":"S12","d":218,"v":1400},
{"c":"S13","d":10,"v":0},{"c":"S13","d":40,"v":800},{"c":"S13","d":55,"v":1200},{"c":"S13","d":70,"v":1000},{"c":"S13","d":90,"v":700},{"c":"S13","d":120,"v":500},{"c":"S13","d":160,"v":400},{"c":"S13","d":200,"v":600},{"c":"S13","d":224,"v":1000},
{"c":"S14","d":25,"v":0},{"c":"S14","d":60,"v":100},{"c":"S14","d":100,"v":200},{"c":"S14","d":150,"v":350},{"c":"S14","d":190,"v":500},{"c":"S14","d":212,"v":600},
{"c":"S15","d":15,"v":0},{"c":"S15","d":45,"v":500},{"c":"S15","d":80,"v":1500},{"c":"S15","d":100,"v":2000},{"c":"S15","d":120,"v":1700},{"c":"S15","d":140,"v":1300},{"c":"S15","d":170,"v":1000},{"c":"S15","d":200,"v":900},{"c":"S15","d":216,"v":1000},
{"c":"S16","d":12,"v":0},{"c":"S16","d":40,"v":150},{"c":"S16","d":80,"v":250},{"c":"S16","d":120,"v":300},{"c":"S16","d":160,"v":250},{"c":"S16","d":200,"v":300},{"c":"S16","d":225,"v":400},
{"c":"S17","d":18,"v":0},{"c":"S17","d":50,"v":100},{"c":"S17","d":90,"v":150},{"c":"S17","d":140,"v":200},{"c":"S17","d":180,"v":350},{"c":"S17","d":210,"v":500},{"c":"S17","d":228,"v":800},
{"c":"S18","d":8,"v":0},{"c":"S18","d":30,"v":250},{"c":"S18","d":60,"v":350},{"c":"S18","d":100,"v":450},{"c":"S18","d":140,"v":600},{"c":"S18","d":180,"v":700},{"c":"S18","d":215,"v":750},
{"c":"S19","d":22,"v":0},{"c":"S19","d":60,"v":80},{"c":"S19","d":110,"v":120},{"c":"S19","d":160,"v":100},{"c":"S19","d":200,"v":150},{"c":"S19","d":241,"v":200},
{"c":"S20","d":15,"v":0},{"c":"S20","d":45,"v":300},{"c":"S20","d":70,"v":500},{"c":"S20","d":100,"v":350},{"c":"S20","d":140,"v":250},{"c":"S20","d":180,"v":300},{"c":"S20","d":205,"v":450},{"c":"S20","d":220,"v":600},
{"c":"S21","d":20,"v":0},{"c":"S21","d":70,"v":200},{"c":"S21","d":120,"v":700},{"c":"S21","d":150,"v":1000},{"c":"S21","d":180,"v":800},{"c":"S21","d":210,"v":600},
{"c":"S22","d":10,"v":0},{"c":"S22","d":25,"v":100},{"c":"S22","d":60,"v":150},{"c":"S22","d":110,"v":60},{"c":"S22","d":170,"v":80},{"c":"S22","d":220,"v":150},{"c":"S22","d":235,"v":200},
{"c":"S23","d":14,"v":0},{"c":"S23","d":40,"v":500},{"c":"S23","d":60,"v":600},{"c":"S23","d":90,"v":550},{"c":"S23","d":130,"v":450},{"c":"S23","d":170,"v":500},{"c":"S23","d":200,"v":700},{"c":"S23","d":219,"v":900}
],
"eu":[
{"d":0,"v":0},{"d":3,"v":0},{"d":5,"v":100},{"d":8,"v":300},{"d":11,"v":700},{"d":14,"v":1400},{"d":17,"v":2300},{"d":19,"v":3500},{"d":21,"v":5000},{"d":22.5,"v":6200},{"d":24,"v":7600},{"d":26,"v":11500},{"d":27,"v":13500},{"d":29,"v":17000},{"d":31,"v":20300},{"d":33,"v":23600},{"d":34,"v":25500},{"d":35.5,"v":26600},{"d":37,"v":27100},{"d":38,"v":27700},{"d":39.2,"v":28300},{"d":40.5,"v":27800},{"d":41.7,"v":27900},{"d":43.3,"v":27000},{"d":45,"v":25500},{"d":46,"v":24600},{"d":47.7,"v":24000},{"d":49,"v":23200},{"d":51,"v":21900},{"d":53.4,"v":20000},{"d":55.9,"v":17200},{"d":57.8,"v":16600},{"d":59.5,"v":15500},{"d":61.5,"v":14000},{"d":62.8,"v":13800},{"d":64.7,"v":12700},{"d":66,"v":11500},{"d":67.9,"v":9900},{"d":70,"v":8600},{"d":71.6,"v":7800},{"d":73,"v":7300},{"d":74.8,"v":6950},{"d":76.7,"v":7100},{"d":78.5,"v":6600},{"d":80.4,"v":6200},{"d":82,"v":5900},{"d":84.2,"v":5300},{"d":86,"v":4900},{"d":88,"v":4650},{"d":90,"v":4400},{"d":92,"v":4250},{"d":94,"v":4100},{"d":96,"v":4000},{"d":98.7,"v":4050},{"d":101,"v":3700},{"d":103,"v":3400},{"d":105,"v":3250},{"d":107,"v":3300},{"d":108.5,"v":3600},{"d":110,"v":3750},{"d":112,"v":3700},{"d":114.4,"v":3650},{"d":117,"v":3800},{"d":120.7,"v":4050},{"d":124,"v":4100},{"d":127,"v":4100},{"d":131.4,"v":4050},{"d":132.7,"v":3700},{"d":136,"v":3700},{"d":139.6,"v":3700},{"d":141,"v":3900},{"d":142.8,"v":4200},{"d":146.5,"v":4550},{"d":148,"v":5000},{"d":149.7,"v":5700},{"d":152.3,"v":6300},{"d":155.4,"v":6950},{"d":158.5,"v":7800},{"d":161,"v":8250},{"d":163.5,"v":9300},{"d":166.1,"v":10450},{"d":168,"v":10900},{"d":170.5,"v":11100},{"d":172,"v":11700},{"d":173,"v":12300},{"d":174.9,"v":12700},{"d":176.4,"v":14600},{"d":177.1,"v":14200},{"d":178.6,"v":14850},{"d":179.9,"v":15700},{"d":181.8,"v":16100},{"d":183.7,"v":17400},{"d":186.2,"v":18700},{"d":188,"v":19300},{"d":190,"v":20400},{"d":191.9,"v":21200},{"d":194.7,"v":22300},{"d":196,"v":23300},{"d":197.5,"v":24200},{"d":200,"v":26100},{"d":202.6,"v":27850},{"d":204.5,"v":28700},{"d":207,"v":30800},{"d":208.2,"v":33000},{"d":210.7,"v":36200},{"d":212.5,"v":37200},{"d":214.5,"v":38300},{"d":216,"v":39500},{"d":218,"v":40650},{"d":220.8,"v":41100},{"d":222,"v":42000},{"d":223.7,"v":43600},{"d":224.9,"v":42800},{"d":226.8,"v":47000},{"d":227.7,"v":50400},{"d":229,"v":54700},{"d":230.3,"v":59800},{"d":231.8,"v":65800},{"d":232.8,"v":67300},{"d":234.1,"v":72200},{"d":236,"v":80700},{"d":237.8,"v":90500},{"d":239,"v":97800},{"d":240,"v":100300}
],
"ua":[
{"d":11,"v":50},{"d":20,"v":100},{"d":21.5,"v":250},{"d":75,"v":250},{"d":76,"v":450},{"d":84,"v":450},{"d":85,"v":650},{"d":93,"v":650},{"d":94,"v":850},{"d":98,"v":850},{"d":99,"v":600},{"d":124,"v":600},{"d":125,"v":950},{"d":133,"v":1000},{"d":137.7,"v":1200},{"d":140.9,"v":1500},{"d":143.4,"v":1320},{"d":146,"v":1500},{"d":147.8,"v":1320},{"d":150.3,"v":1830},{"d":152.2,"v":1620},{"d":154.1,"v":2130},{"d":156,"v":1830},{"d":159.1,"v":1920},{"d":161.7,"v":1750},{"d":164.8,"v":2260},{"d":167.3,"v":2690},{"d":169.8,"v":2690},{"d":171.1,"v":2350},{"d":174.2,"v":2600},{"d":176.8,"v":2260},{"d":178.6,"v":2780},{"d":181.2,"v":2900},{"d":182.1,"v":2600},{"d":183.7,"v":3030},{"d":187.5,"v":3110},{"d":190,"v":3330},{"d":191.2,"v":2900},{"d":193.1,"v":3540},{"d":196.3,"v":4180},{"d":197.2,"v":4390},{"d":197.8,"v":5030},{"d":199.1,"v":3620},{"d":200,"v":4610},{"d":202.6,"v":5030},{"d":205.1,"v":5250},{"d":206,"v":6010},{"d":206.7,"v":5250},{"d":207.9,"v":5890},{"d":208.5,"v":6180},{"d":210,"v":5400}
],
"ends":[
{"c":"European Union","d":240,"v":100300},{"c":"Ukraine","d":210,"v":5400}
]
},
"encoding":{
"x":{"field":"d","type":"quantitative","scale":{"domain":[0,284],"nice":false,"zero":false},
"axis":{"values":[20,40,60,80,100,120,140,160,180,200,220,240,260,280],"grid":true,"gridColor":"#e9ddd2","gridWidth":1.5,"ticks":false,"domain":true,"domainColor":"#b8b1ab","domainWidth":2,"labelFont":"Lato","labelFontSize":24,"labelColor":"#66605c","labelPadding":4,"labelFlush":false,"labelOverlap":false,
"title":"Number of days since 10 average daily cases first recorded","titleFont":"Lato","titleFontSize":23.7,"titleFontWeight":"normal","titleColor":"#4f4a46","titleAnchor":"start","titleAlign":"left","titleX":0,"titleY":55,"titleBaseline":"middle"}},
"y":{"field":"v","type":"quantitative","scale":{"domain":[0,100450],"nice":false},
"axis":{"values":[0,10000,20000,30000,40000,50000,60000,70000,80000,90000,100000],"format":",.0f","grid":true,"gridColor":"#e9ddd2","gridWidth":1.5,"ticks":false,"domain":false,"labelFont":"Lato","labelFontSize":24,"labelColor":"#66605c","labelPadding":7,"title":null}}
},
"layer":[
{"data":{"name":"g"},"mark":{"type":"line","color":"#aca59f","strokeWidth":1.5,"strokeJoin":"round"},"encoding":{"detail":{"field":"c"}}},
{"data":{"name":"ua"},"mark":{"type":"line","color":"#0f5499","strokeWidth":4.5,"strokeJoin":"round","strokeCap":"round"},"encoding":{}},
{"data":{"name":"eu"},"mark":{"type":"line","color":"#e95d8c","strokeWidth":4.5,"strokeJoin":"round","strokeCap":"round"},"encoding":{}},
{"data":{"name":"ends"},"mark":{"type":"point","filled":true,"opacity":1,"size":140},"encoding":{"color":{"field":"c","type":"nominal","scale":{"domain":["European Union","Ukraine"],"range":["#e95d8c","#0f5499"]},"legend":null}}},
{"data":{"name":"ends"},"mark":{"type":"text","align":"left","baseline":"middle","dx":15,"font":"Lato","fontSize":24},"encoding":{"text":{"field":"c"},"color":{"field":"c","type":"nominal","scale":{"domain":["European Union","Ukraine"],"range":["#e95d8c","#0f5499"]},"legend":null}}}
]
}
